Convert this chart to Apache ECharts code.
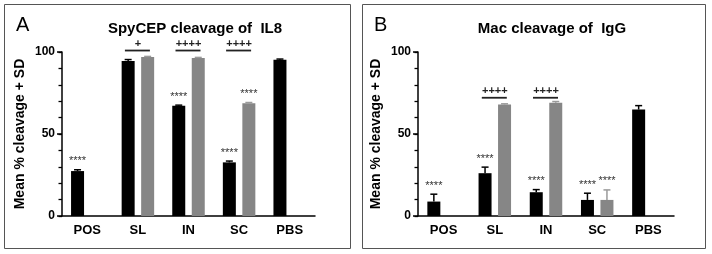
<!DOCTYPE html>
<html>
<head>
<meta charset="utf-8">
<script src="https://cdn.jsdelivr.net/npm/echarts@6/dist/echarts.min.js"></script>
<style>
  html, body { margin: 0; padding: 0; background: #fff; }
  #chart { width: 712px; height: 254px; }
</style>
</head>
<body>
<div id="chart"></div>
<script>
// categories
const categories = ['POS', 'SL', 'IN', 'SC', 'PBS'];

// A: SpyCEP cleavage of IL8
const il8Black = [27.4, 94.5, 67.3, 32.7, 95.3];
const il8BlackSd = [0.8, 0.9, 0.3, 0.8, 0.4];
const il8Gray = [null, 97.0, 96.4, 68.8, null];
const il8GraySd = [null, 0.3, 0.3, 0.4, null];
const il8BlackStars = ['****', '', '****', '****', ''];
const il8GrayStars = ['', '', '', '****', ''];
const il8Plus = ['', '+', '++++', '++++', ''];
const il8PlusLevel = 100.9;

// B: Mac cleavage of IgG
const iggBlack = [8.8, 26.1, 14.5, 9.8, 64.9];
const iggBlackSd = [4.5, 3.7, 1.6, 4.1, 2.4];
const iggGray = [null, 68.0, 69.0, 9.8, null];
const iggGraySd = [null, 0.4, 0.8, 6.1, null];
const iggBlackStars = ['****', '****', '****', '****', ''];
const iggGrayStars = ['', '', '', '****', ''];
const iggPlus = ['', '++++', '++++', '', ''];
const iggPlusLevel = 72.1;

const yTicks = [0, 50, 100];
const yMinorStep = 10;

const FONT = 'Liberation Sans';
const BAR_OFF = 9.75;

// error bar (+SD) with significance stars on top
function errRender(sds, stars, offset, color) {
  return function (params, api) {
    const i = api.value(0);
    const v = api.value(1);
    const base = api.coord([i, v]);
    const top = api.coord([i, v + sds[i]]);
    const x = base[0] + offset;
    const kids = [
      { type: 'line', shape: { x1: x, y1: base[1], x2: x, y2: top[1] }, style: { stroke: color, lineWidth: 1.5 } },
      { type: 'line', shape: { x1: x - 3.5, y1: top[1], x2: x + 3.5, y2: top[1] }, style: { stroke: color, lineWidth: 1.5 } }
    ];
    if (stars[i]) {
      kids.push({
        type: 'text',
        style: { text: stars[i], x: x, y: top[1] - 3, align: 'center', verticalAlign: 'bottom',
                 font: '11px "' + FONT + '"', fill: '#333' }
      });
    }
    return { type: 'group', children: kids };
  };
}

// comparison bracket line with "+" marks
function plusRender(marks) {
  return function (params, api) {
    const i = api.value(0);
    const p = api.coord([i, api.value(1)]);
    return {
      type: 'group',
      children: [
        { type: 'line', shape: { x1: p[0] - 13, y1: p[1], x2: p[0] + 12, y2: p[1] }, style: { stroke: '#222', lineWidth: 1.8 } },
        { type: 'text', style: { text: marks[i], x: p[0], y: p[1] - 1, align: 'center', verticalAlign: 'bottom',
                                 font: 'bold 11px "' + FONT + '"', fill: '#222' } }
      ]
    };
  };
}

function pts(vals) {
  const out = [];
  vals.forEach((v, i) => { if (v != null) out.push([i, v]); });
  return out;
}

function panelSeries(idx, black, blackSd, gray, graySd, bStars, gStars, marks, level) {
  return [
    { type: 'bar', xAxisIndex: idx, yAxisIndex: idx, data: black.map(v => v == null ? '-' : v),
      barWidth: 13, barGap: '50%', itemStyle: { color: '#000' }, silent: true },
    { type: 'bar', xAxisIndex: idx, yAxisIndex: idx, data: gray.map(v => v == null ? '-' : v),
      barWidth: 13, barGap: '50%', itemStyle: { color: '#868686' }, silent: true },
    { type: 'custom', xAxisIndex: idx, yAxisIndex: idx, data: pts(black), z: 5,
      renderItem: errRender(blackSd, bStars, -BAR_OFF, '#000') },
    { type: 'custom', xAxisIndex: idx, yAxisIndex: idx, data: pts(gray), z: 5,
      renderItem: errRender(graySd, gStars, BAR_OFF, '#9a9a9a') },
    { type: 'custom', xAxisIndex: idx, yAxisIndex: idx, z: 5,
      data: marks.map((m, i) => m ? [i, level] : null).filter(d => d),
      renderItem: plusRender(marks) }
  ];
}

function xAx(idx) {
  return {
    type: 'category', gridIndex: idx, data: categories,
    axisLine: { lineStyle: { color: '#000', width: 1.5 } },
    axisTick: { alignWithLabel: true, length: 5, lineStyle: { color: '#000', width: 1.5 } },
    axisLabel: { color: '#000', fontFamily: FONT, fontWeight: 'bold', fontSize: 13, margin: 8 }
  };
}

function yAx(idx) {
  return {
    type: 'value', gridIndex: idx, min: yTicks[0], max: yTicks[yTicks.length - 1], interval: 50,
    name: 'Mean % cleavage + SD', nameLocation: 'middle', nameRotate: 90, nameGap: 35,
    nameTextStyle: { color: '#000', fontFamily: FONT, fontWeight: 'bold', fontSize: 14 },
    axisLine: { show: true, lineStyle: { color: '#000', width: 1.5 } },
    axisTick: { show: true, length: 5, lineStyle: { color: '#000', width: 1.5 } },
    splitLine: { show: false },
    axisLabel: { color: '#000', fontFamily: FONT, fontWeight: 'bold', fontSize: 12, margin: 7 }
  };
}

// overlay axis that only draws the short 10-unit ticks
function yMinor(idx) {
  return {
    type: 'value', gridIndex: idx, min: yTicks[0], max: yTicks[yTicks.length - 1], interval: yMinorStep,
    position: 'left',
    axisLine: { show: false },
    axisTick: { show: true, length: 3.5, lineStyle: { color: '#000', width: 1.3 } },
    axisLabel: { show: false },
    splitLine: { show: false }
  };
}

const chart = echarts.init(document.getElementById('chart'), null, { renderer: 'canvas' });
chart.setOption({
  animation: false,
  backgroundColor: '#fff',
  title: [
    { text: 'SpyCEP cleavage of  IL8', left: 190, top: 16, textAlign: 'center',
      textStyle: { fontFamily: FONT, fontWeight: 'bold', fontSize: 15, color: '#000' } },
    { text: 'Mac cleavage of  IgG', left: 547, top: 16, textAlign: 'center',
      textStyle: { fontFamily: FONT, fontWeight: 'bold', fontSize: 15, color: '#000' } },
    { text: 'A', left: 11, top: 10, textStyle: { fontFamily: FONT, fontWeight: 'normal', fontSize: 20, color: '#000' } },
    { text: 'B', left: 369, top: 10, textStyle: { fontFamily: FONT, fontWeight: 'normal', fontSize: 20, color: '#000' } }
  ],
  graphic: [
    { type: 'rect', shape: { x: 4.5, y: 4.5, width: 346, height: 244 }, style: { fill: 'none', stroke: '#555', lineWidth: 1 }, silent: true },
    { type: 'rect', shape: { x: 362.5, y: 4.5, width: 343, height: 244 }, style: { fill: 'none', stroke: '#555', lineWidth: 1 }, silent: true }
  ],
  grid: [
    { left: 62, top: 52, width: 253, bottom: 38 },
    { left: 418, top: 52, width: 256, bottom: 38 }
  ],
  xAxis: [xAx(0), xAx(1)],
  yAxis: [yAx(0), yAx(1), yMinor(0), yMinor(1)],
  series: [
    ...panelSeries(0, il8Black, il8BlackSd, il8Gray, il8GraySd, il8BlackStars, il8GrayStars, il8Plus, il8PlusLevel),
    ...panelSeries(1, iggBlack, iggBlackSd, iggGray, iggGraySd, iggBlackStars, iggGrayStars, iggPlus, iggPlusLevel)
  ]
});
</script>
</body>
</html>
